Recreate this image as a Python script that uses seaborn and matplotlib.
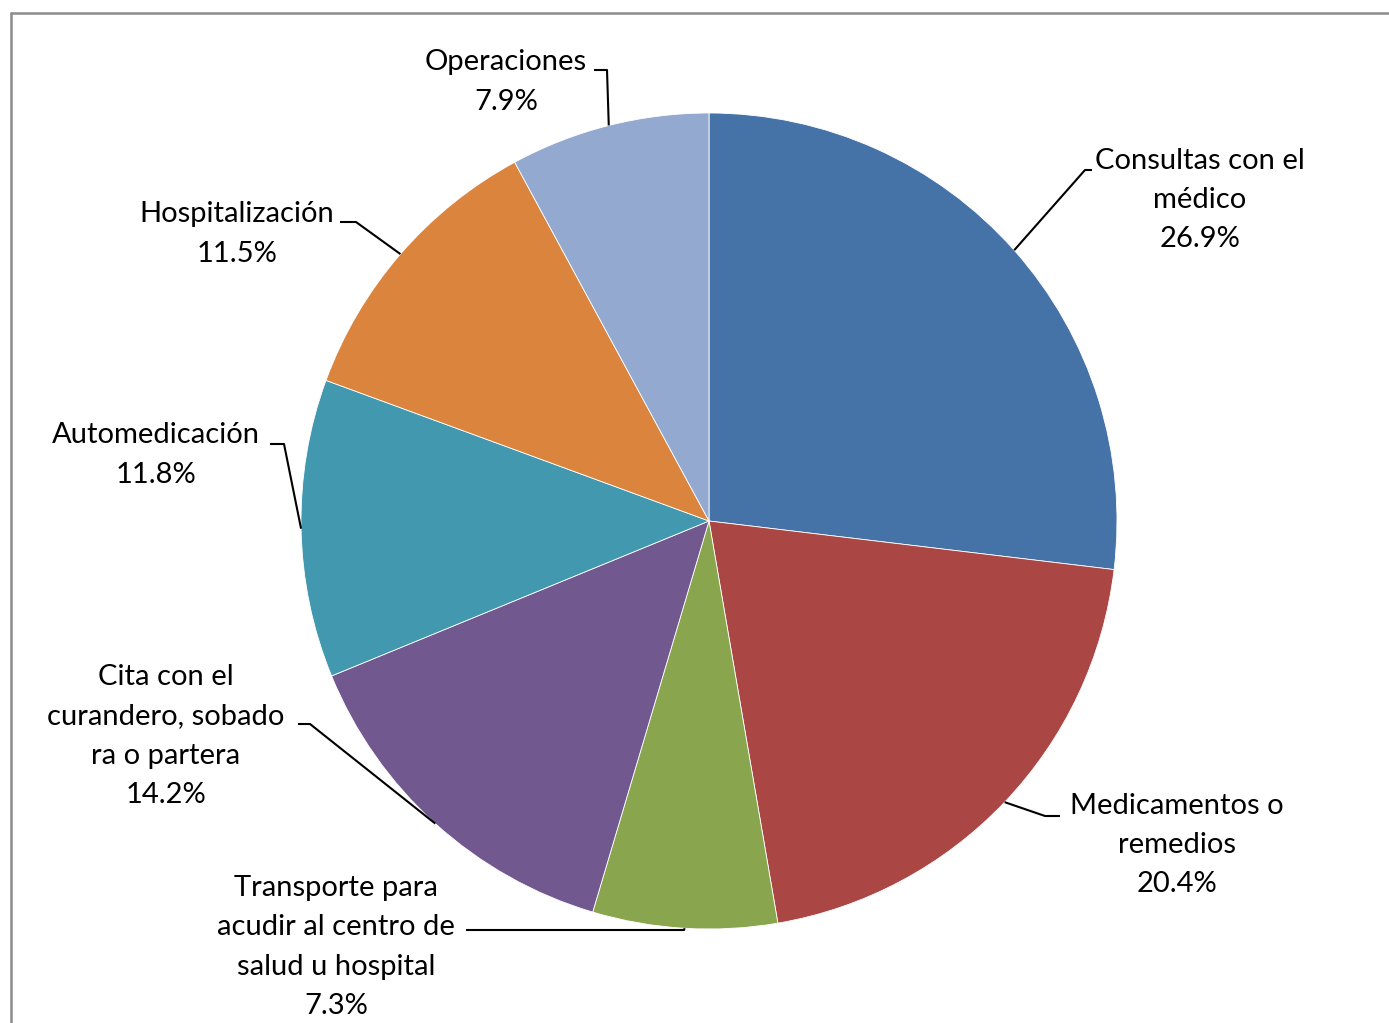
import numpy as np
import matplotlib
matplotlib.use("Agg")
import matplotlib.pyplot as plt
from matplotlib.lines import Line2D
import seaborn as sns

# data (clockwise from 12 o'clock)
categorias = ["Consultas con el\nmédico",
              "Medicamentos o\nremedios",
              "Transporte para\nacudir al centro de\nsalud u hospital",
              "Cita con el\ncurandero, sobado\nra o partera",
              "Automedicación",
              "Hospitalización",
              "Operaciones"]
porcentajes = [26.9, 20.4, 7.3, 14.2, 11.8, 11.5, 7.9]
colores = ["#4572A7", "#AA4643", "#89A54E", "#71588F", "#4198AF", "#DB843D", "#93A9CF"]

# label layout in pixel coordinates (text centre, elbow of leader, end of leader)
pos_texto = [(1200, 200), (1177, 845), (336, 947), (166, 736), (156, 455), (237, 234), (506, 82)]
codo = [(1085, 170), (1045, 816), (684, 930), (310, 724), (284, 444), (356, 222), (607, 70)]
fin = [(1092, 170), (1060, 816), (466, 930), (298, 724), (270, 444), (340, 222), (594, 70)]

sns.set_theme(style="white")
plt.rcParams['font.family'] = ['Lato', 'DejaVu Sans']

W, H = 1389, 1023
fig = plt.figure(figsize=(W / 100, H / 100), dpi=100)
ax = fig.add_axes([0, 0, 1, 1])

cx, cy, r = 709, 521, 408
wedges, _ = ax.pie(porcentajes, colors=colores, startangle=-90, counterclock=True,
                   center=(cx, cy), radius=r, frame=True,
                   wedgeprops={'linewidth': 0.6, 'edgecolor': 'white'})
ax.set_xlim(0, W)
ax.set_ylim(H, 0)
ax.set_aspect('equal')
ax.axis('off')

for w, nombre, p, tp, cd, fn in zip(wedges, categorias, porcentajes, pos_texto, codo, fin):
    ang = np.deg2rad((w.theta1 + w.theta2) / 2)
    ex, ey = cx + r * np.cos(ang), cy + r * np.sin(ang)
    ax.plot([ex, cd[0], fn[0]], [ey, cd[1], fn[1]], color='black', lw=1.5,
            solid_capstyle='butt', zorder=3)
    ax.text(tp[0], tp[1], f"{nombre}\n{p:.1f}%", ha='center', va='center',
            fontsize=21, linespacing=1.62, color='black')

# chart frame (only left and top edges visible)
fig.add_artist(Line2D([11 / W, 11 / W], [0, 1 - 13 / H], color='#8c8c8c', lw=1.8,
                      transform=fig.transFigure))
fig.add_artist(Line2D([11 / W, 1], [1 - 13 / H, 1 - 13 / H], color='#8c8c8c', lw=1.8,
                      transform=fig.transFigure))

fig.savefig("out.png", dpi=100, facecolor='white')
